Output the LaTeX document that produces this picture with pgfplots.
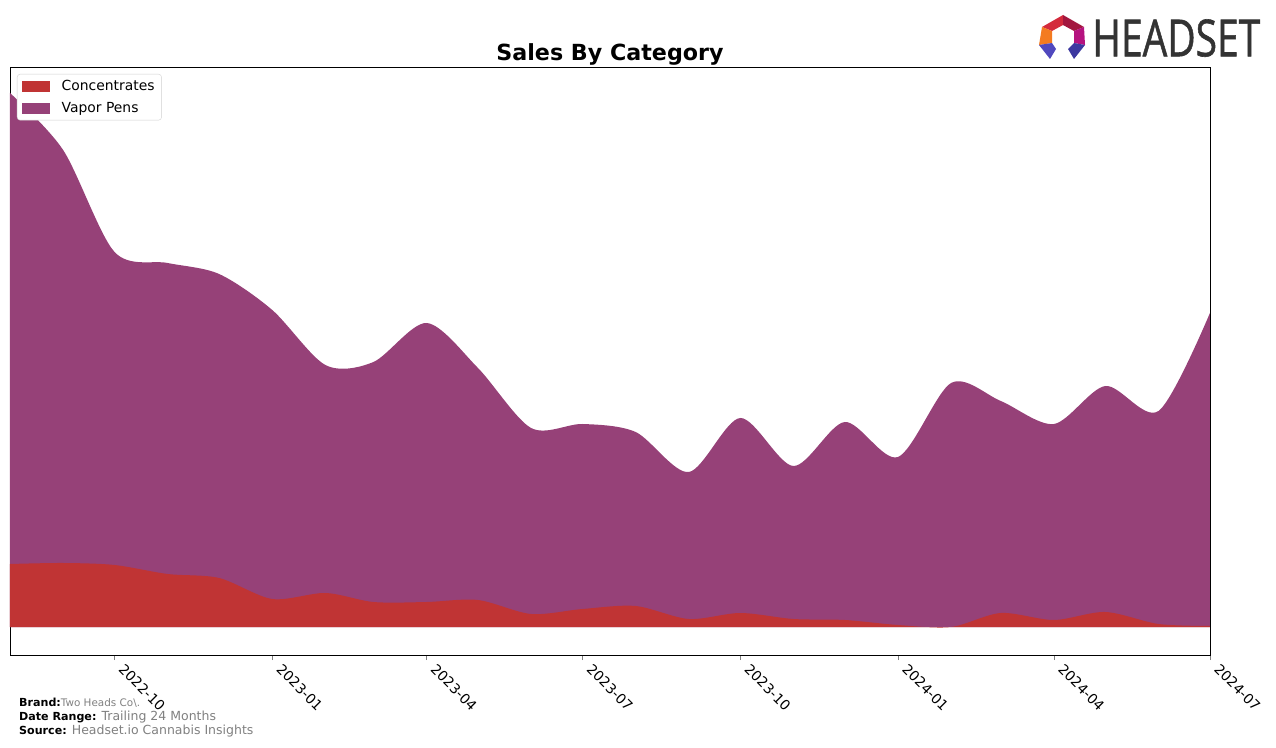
\documentclass[border=0pt]{standalone}
\usepackage{pgfplots}
\pgfplotsset{compat=1.18}
\usepackage{pgfplotstable}
\usepackage{fontspec}
\setmainfont{DejaVu Sans}
\definecolor{concred}{RGB}{192,52,52}
\definecolor{vappurple}{RGB}{150,65,120}
\definecolor{footgray}{RGB}{128,128,128}
\definecolor{logogray}{RGB}{51,51,51}

% day offset from 2022-08-01, concentrates, vapor pens
\pgfplotstableread{
d c v
0 63 471
31 64 413
61 62 313
92 53 311
122 49 304
153 28 289
184 34 228
212 25 240
243 25 279
273 27 232
304 13 186
334 18 185
365 21 174
396 8 147
426 14 195
457 8 153
487 7 198
518 2 168
549 0 244
578 14 212
609 7 196
639 15 226
670 3 213
700 1 313
}\sales

\begin{document}
\begin{tikzpicture}[x=1pt,y=1pt]
\useasboundingbox (0,0) rectangle (1276,747);
\begin{axis}[
  at={(10pt,92pt)}, anchor=south west,
  scale only axis, width=1200pt, height=588pt,
  xmin=0, xmax=700, ymin=-28, ymax=560,
  xtick={61,153,243,334,426,518,609,700},
  xticklabels={2022-10,2023-01,2023-04,2023-07,2023-10,2024-01,2024-04,2024-07},
  xticklabel style={rotate=-45, anchor=north west, font=\fontsize{13.9}{16}\selectfont, inner sep=1pt, xshift=8.6pt, yshift=6.5pt},
  ytick=\empty,
  xtick pos=bottom, tick align=outside, major tick length=5pt,
  axis line style={black, line width=0.8pt},
  legend style={at={(0,1)}, anchor=north west, xshift=7pt, yshift=-7pt,
    draw=black!18, rounded corners=3pt, font=\fontsize{13.9}{17}\selectfont,
    inner xsep=5pt, inner ysep=3pt, row sep=4pt,
    nodes={inner sep=2pt, text height=11pt, text depth=3pt},
    /tikz/every odd column/.append style={column sep=10pt}},
  legend cell align=left,
]
\addlegendimage{legend image code/.code={\fill[concred, sharp corners] (0pt,-5pt) rectangle (27pt,5pt);}}
\addlegendentry{Concentrates}
\addlegendimage{legend image code/.code={\fill[vappurple, sharp corners] (0pt,-5pt) rectangle (27pt,5pt);}}
\addlegendentry{Vapor Pens}
\addplot[fill=vappurple, draw=none, smooth, forget plot] table[x=d, y expr=\thisrow{c}+\thisrow{v}] {\sales} \closedcycle;
\addplot[fill=concred, draw=none, smooth, forget plot] table[x=d, y=c] {\sales} \closedcycle;
\end{axis}
% title
\node[font=\fontsize{22.2}{26}\selectfont\bfseries] at (610,693) {Sales By Category};
% footer
\node[anchor=base west, inner sep=0pt] at (19,41) {\fontsize{11.1}{13}\selectfont\bfseries Brand:\fontsize{10.4}{13}\selectfont\mdseries\color{footgray}Two Heads Co\textbackslash.};
\node[anchor=base west, inner sep=0pt] at (19,27) {\fontsize{11.1}{13}\selectfont\bfseries Date Range: \fontsize{12.5}{14}\selectfont\mdseries\color{footgray}Trailing 24 Months};
\node[anchor=base west, inner sep=0pt] at (19,13) {\fontsize{11.1}{13}\selectfont\bfseries Source: \fontsize{12.5}{14}\selectfont\mdseries\color{footgray}Headset.io Cannabis Insights};
% logo
\fill[fill={rgb,255:red,212;green,42;blue,60}] (1042,720) -- (1063,732) -- (1063,722) -- (1052,716) -- cycle;
\fill[fill={rgb,255:red,163;green,23;blue,63}] (1063,732) -- (1084,720) -- (1074,716) -- (1063,722) -- cycle;
\fill[fill={rgb,255:red,244;green,123;blue,32}] (1042,720) -- (1052,716) -- (1052,704) -- (1039,702) -- cycle;
\fill[fill={rgb,255:red,181;green,19;blue,127}] (1084,720) -- (1074,716) -- (1074,704) -- (1085,702) -- cycle;
\fill[fill={rgb,255:red,80;green,72;blue,190}] (1039,702) -- (1052,704) -- (1056,698) -- (1050,688) -- cycle;
\fill[fill={rgb,255:red,60;green,56;blue,160}] (1085,702) -- (1074,704) -- (1068,698) -- (1074,688) -- cycle;
\node[anchor=south west, inner sep=0pt, text=logogray] at (1092,690) {\resizebox{168pt}{37pt}{\fontspec{Open Sans}[FakeBold=1.2]HEADSET}};
\end{tikzpicture}
\end{document}
